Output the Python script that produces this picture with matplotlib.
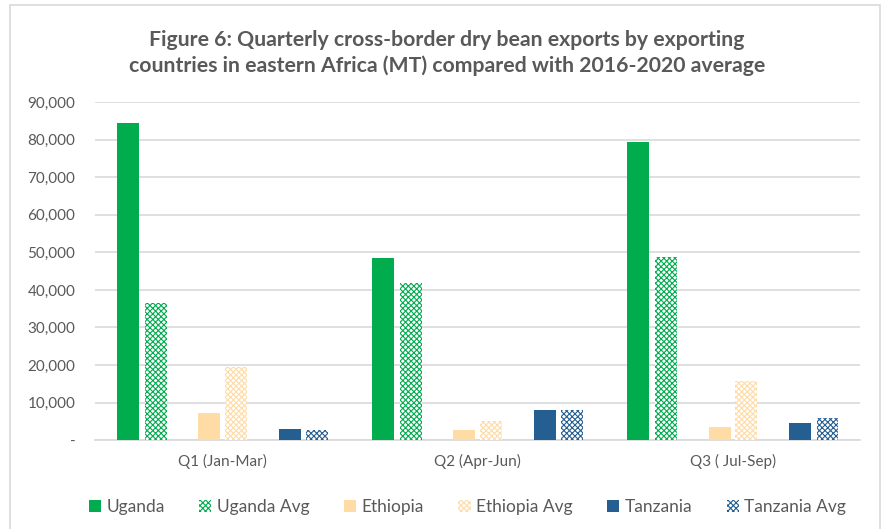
import matplotlib.pyplot as plt
from matplotlib.patches import Rectangle
from matplotlib.ticker import FuncFormatter
import numpy as np

plt.rcParams['font.family'] = ['Lato', 'DejaVu Sans']
plt.rcParams['hatch.linewidth'] = 0.8

quarters = ['Q1 (Jan-Mar)', 'Q2 (Apr-Jun)', 'Q3 ( Jul-Sep)']
series = ['Uganda', 'Uganda Avg', 'Ethiopia', 'Ethiopia Avg', 'Tanzania', 'Tanzania Avg']
uganda = [84500, 48500, 79300]
uganda_avg = [36500, 41800, 48700]
ethiopia = [7300, 2700, 3600]
ethiopia_avg = [19500, 5000, 15800]
tanzania = [2900, 8000, 4600]
tanzania_avg = [2700, 8000, 5900]

values = [uganda, uganda_avg, ethiopia, ethiopia_avg, tanzania, tanzania_avg]
colors = ['#00ac4e', '#00ac4e', '#ffdba5', '#ffdba5', '#255e91', '#255e91']
hatched = [False, True, False, True, False, True]
offsets = [-0.371, -0.261, -0.052, 0.053, 0.263, 0.371]
width = 0.086

fig = plt.figure(figsize=(8.87, 5.29), dpi=100)
ax = fig.add_axes([0.107, 0.168, 0.863, 0.639])

x = np.arange(len(quarters))
for vals, color, hat, off, name in zip(values, colors, hatched, offsets, series):
    if hat:
        ax.bar(x + off, vals, width, facecolor='white', edgecolor=color,
               hatch='xxxxxx', linewidth=0, label=name, zorder=3)
    else:
        ax.bar(x + off, vals, width, color=color, linewidth=0, label=name, zorder=3)

ax.set_xlim(-0.5, 2.5)
ax.set_ylim(0, 90000)
ax.set_yticks(range(0, 90001, 10000))
ax.yaxis.set_major_formatter(FuncFormatter(lambda v, p: '-' if v == 0 else f'{int(v):,}'))
ax.set_xticks(x)
ax.set_xticklabels(quarters)
ax.grid(axis='y', color='#d9d9d9', linewidth=1.2, zorder=0)
ax.tick_params(axis='both', length=0, labelsize=11, colors='#595959')
ax.tick_params(axis='y', pad=14)
ax.tick_params(axis='x', pad=10)
for side in ['top', 'right', 'left']:
    ax.spines[side].set_visible(False)
ax.spines['bottom'].set_color('#d9d9d9')
ax.spines['bottom'].set_linewidth(1.2)

fig.text(0.504, 0.9, 'Figure 6: Quarterly cross-border dry bean exports by exporting\n'
         'countries in eastern Africa (MT) compared with 2016-2020 average',
         ha='center', va='center', fontsize=15.3, fontweight='bold', color='#595959',
         linespacing=1.3)

handles, labels = ax.get_legend_handles_labels()
leg = fig.legend(handles, labels, loc='center', bbox_to_anchor=(0.527, 0.042), ncol=6,
                 frameon=False, fontsize=12.5, handlelength=0.7, handleheight=0.7,
                 handletextpad=0.3, columnspacing=2.0, labelcolor='#595959')

fig.patches.append(Rectangle((0.011, -0.02), 0.981, 1.01, transform=fig.transFigure,
                             fill=False, edgecolor='#d9d9d9', linewidth=1.2))

fig.savefig('out.png', dpi=100, facecolor='white')
